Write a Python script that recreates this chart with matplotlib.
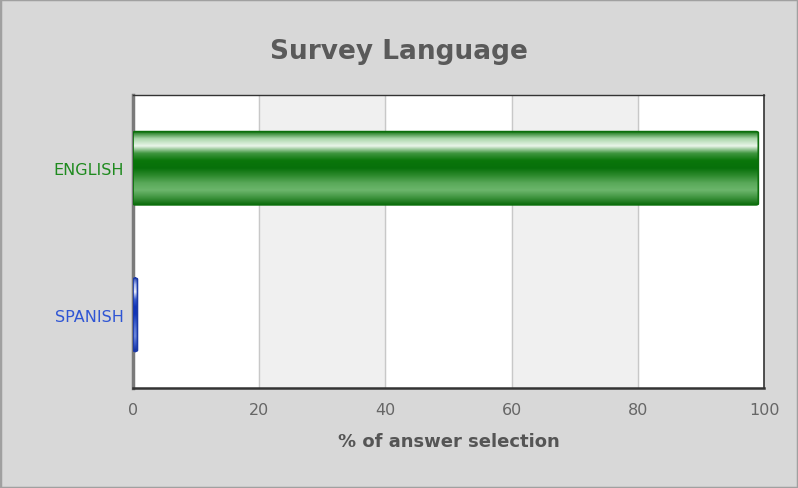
import numpy as np
import matplotlib
matplotlib.use("Agg")
import matplotlib.pyplot as plt
from matplotlib.colors import LinearSegmentedColormap
from matplotlib.patches import FancyBboxPatch, Rectangle

categories = ["ENGLISH", "SPANISH"]
values = [99.1, 0.7]
label_colors = ["#1e8a1e", "#2f55d4"]
x_ticks = [0, 20, 40, 60, 80, 100]
title = "Survey Language"
xlabel = "% of answer selection"

green_grad = ["#0b6e0b", "#a9d6a9", "#eaf6ea", "#3e963e", "#0a760a", "#07700a",
              "#2d8a2d", "#58a858", "#6cb66c", "#3f943f", "#0a6a0a"]
blue_grad = ["#1c3aa8", "#a8b8ee", "#e8edfb", "#3b5fd0", "#1336b8", "#1336b8",
             "#3558c8", "#5a78d6", "#6a86da", "#3c5cc8", "#12309e"]
grads = [green_grad, blue_grad]

fig = plt.figure(figsize=(7.98, 4.89), dpi=100)
fig.patch.set_facecolor("#d8d8d8")
fig.patches.append(Rectangle((0, 0), 1, 1, transform=fig.transFigure, fill=False,
                             edgecolor="#a0a0a0", linewidth=2.5))

ax = fig.add_axes([0.1667, 0.2045, 0.7907, 0.5992])
ax.set_facecolor("white")
ax.set_xlim(0, 100)
ax.set_ylim(1.5, -0.5)

# alternate bands
for i in range(len(x_ticks) - 1):
    if i % 2 == 1:
        ax.axvspan(x_ticks[i], x_ticks[i + 1], color="#f0f0f0", zorder=0)
for t in x_ticks[1:-1]:
    ax.axvline(t, color="#c8c8c8", linewidth=1, zorder=1)

h = 0.5
for i, (v, g) in enumerate(zip(values, grads)):
    cmap = LinearSegmentedColormap.from_list("g%d" % i, g)
    grad = np.linspace(0, 1, 256).reshape(-1, 1)
    y0, y1 = i - h / 2, i + h / 2
    im = ax.imshow(grad, cmap=cmap, aspect="auto", extent=(0, v, y1, y0),
                   zorder=3, interpolation="bilinear")
    patch = FancyBboxPatch((0, y0), v, h, boxstyle="round,pad=0,rounding_size=0.4",
                           mutation_aspect=0.02, facecolor="none",
                           edgecolor=g[0], linewidth=1.2, zorder=4)
    ax.add_patch(patch)
    im.set_clip_path(patch)

ax.set_xticks(x_ticks)
ax.set_xticklabels([str(t) for t in x_ticks], color="#666666", fontsize=11.5)
ax.set_yticks(range(len(categories)))
ax.set_yticklabels(categories, fontsize=11.5)
for lbl, c in zip(ax.get_yticklabels(), label_colors):
    lbl.set_color(c)
ax.tick_params(axis="x", length=0, pad=10)
ax.tick_params(axis="y", length=0, pad=6.5)

for s in ["top", "right", "bottom"]:
    ax.spines[s].set_color("#333333")
ax.spines["bottom"].set_linewidth(1.8)
ax.spines["left"].set_color("#7a7a7a")
ax.spines["left"].set_linewidth(2.5)
ax.spines["top"].set_linewidth(1)
ax.spines["right"].set_linewidth(1.2)

ax.set_xlabel(xlabel, color="#555555", fontsize=13, fontweight="bold", labelpad=11)
fig.text(0.5, 0.893, title, ha="center", va="center", color="#5a5a5a",
         fontsize=19, fontweight="bold")

fig.savefig("out.png", dpi=100, facecolor=fig.get_facecolor())
